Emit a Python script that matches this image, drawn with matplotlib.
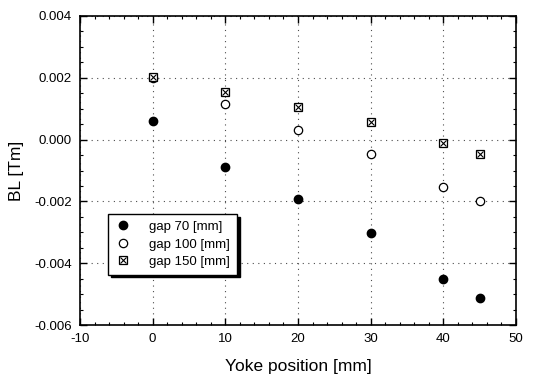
import numpy as np
import matplotlib.pyplot as plt
from matplotlib.ticker import MultipleLocator, FormatStrFormatter
from matplotlib.legend_handler import HandlerTuple

plt.rcParams['font.family'] = ['Liberation Sans', 'DejaVu Sans']
plt.rcParams['axes.unicode_minus'] = False

# Położenie jarzma [mm]
yoke = [0, 10, 20, 30, 40, 45]

# BL [Tm] dla kolejnych szczelin
bl_gap70 = [0.0006, -0.00088, -0.00192, -0.00303, -0.00452, -0.00514]
bl_gap100 = [0.0020, 0.00114, 0.00031, -0.00047, -0.00154, -0.00199]
bl_gap150 = [0.00204, 0.00153, 0.00106, 0.00058, -0.00012, -0.00046]

fig = plt.figure(figsize=(5.34, 3.78), dpi=100)
ax = fig.add_axes([80/534, 1 - 325/378, 436/534, 309/378])

h70, = ax.plot(yoke, bl_gap70, 'o', color='black', ms=6, ls='none')
h100, = ax.plot(yoke, bl_gap100, 'o', mfc='white', mec='black', mew=0.9, ms=6, ls='none')
h150a, = ax.plot(yoke, bl_gap150, 's', mfc='white', mec='black', mew=0.9, ms=5.5, ls='none')
h150b, = ax.plot(yoke, bl_gap150, 'x', color='black', mew=0.8, ms=4.5, ls='none')

ax.set_xlim(-10, 50)
ax.set_ylim(-0.006, 0.004)
ax.xaxis.set_major_locator(MultipleLocator(10))
ax.xaxis.set_minor_locator(MultipleLocator(2))
ax.yaxis.set_major_locator(MultipleLocator(0.002))
ax.yaxis.set_minor_locator(MultipleLocator(0.0005))
ax.yaxis.set_major_formatter(FormatStrFormatter('%.3f'))
ax.tick_params(which='both', direction='in', top=True, right=True, labelsize=9.5, pad=6)
ax.tick_params(which='major', length=5, width=1)
ax.tick_params(which='minor', length=2.5, width=0.8)
ax.grid(True, which='major', ls=(0, (1, 4)), color='black', lw=0.8, alpha=0.7)
for s in ax.spines.values():
    s.set_linewidth(1.2)

ax.set_xlabel('Yoke position [mm]', fontsize=12.5, labelpad=10)
ax.set_ylabel('BL [Tm]', fontsize=12.5, labelpad=7)

leg = ax.legend([h70, h100, (h150a, h150b)], ['gap 70 [mm]', 'gap 100 [mm]', 'gap 150 [mm]'],
                handler_map={tuple: HandlerTuple(ndivide=1)},
                loc='upper left', bbox_to_anchor=(0.05, 0.38), fontsize=9.5,
                frameon=True, fancybox=False, edgecolor='black', framealpha=1,
                shadow={'color': 'black', 'alpha': 1}, handlelength=1.2,
                handletextpad=1.4, borderpad=0.5, labelspacing=0.4)
leg.get_frame().set_linewidth(1.0)

fig.savefig('out.png', dpi=100)
